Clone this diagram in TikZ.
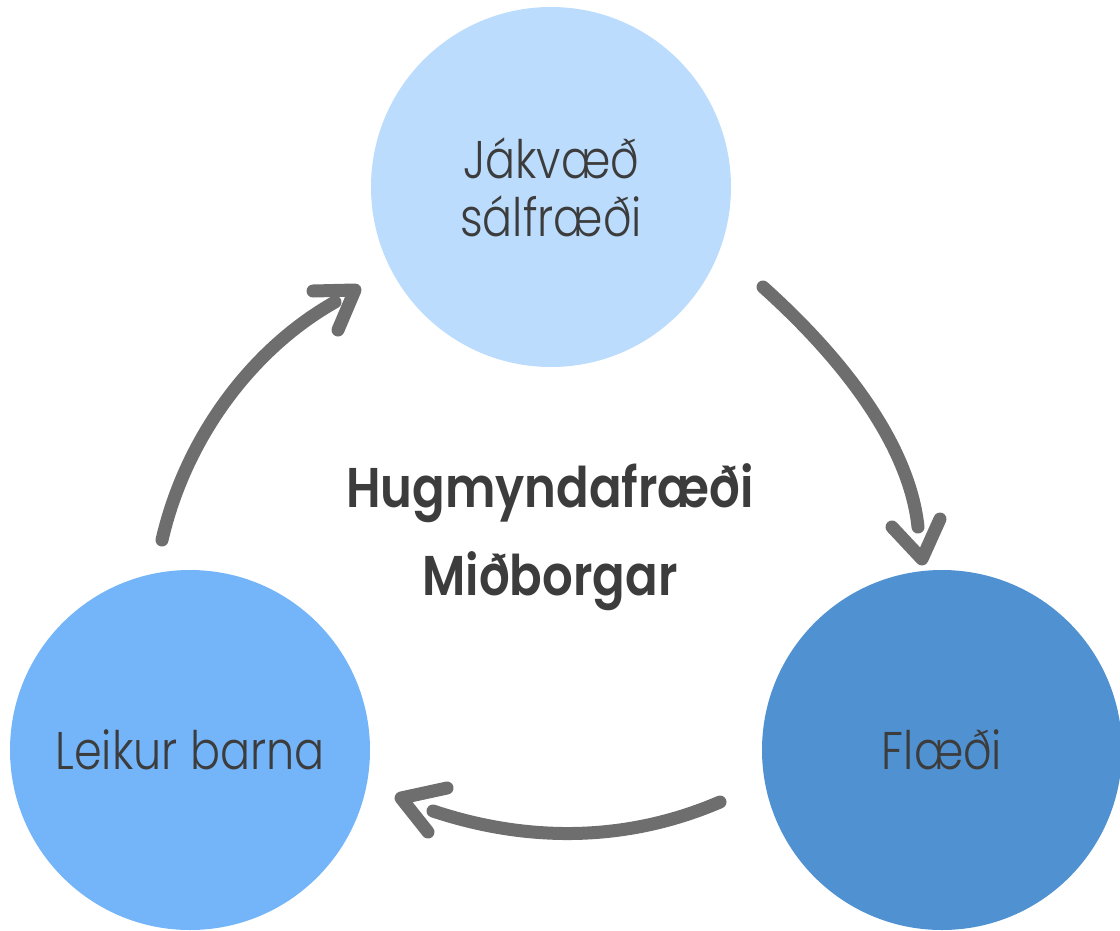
\documentclass[tikz,border=0pt]{standalone}
\usepackage{fontspec}
\setmainfont{Poppins}
\newfontfamily\labelfont[FakeStretch=0.84]{Poppins Light}
\newfontfamily\titlefont[FakeStretch=0.86]{Poppins SemiBold}
\definecolor{ctop}{HTML}{BBDCFC}
\definecolor{cleft}{HTML}{74B4F8}
\definecolor{cright}{HTML}{5091D2}
\definecolor{arrowgray}{HTML}{6E6E6E}
\definecolor{txt}{HTML}{3C3C3C}
\tikzset{
  bubble/.style={circle, minimum size=360pt, inner sep=0pt, text=txt, align=center,
    font=\labelfont\fontsize{53}{58}\selectfont},
  shaft/.style={draw=arrowgray, line width=13pt, line cap=round},
  barb/.style={draw=arrowgray, line width=13pt, line cap=round, line join=round},
}
\begin{document}
\begin{tikzpicture}[x=1pt,y=-1pt]
\useasboundingbox (0,0) rectangle (1120,930);
\node[bubble, fill=ctop] (top) at (551,187) {Jákvæð\\sálfræði};
\node[bubble, fill=cleft] (left) at (190,750) {Leikur barna};
\node[bubble, fill=cright] (right) at (942,750) {Flæði};
\node[text=txt, align=center, font=\titlefont\fontsize{56}{88}\selectfont] (title) at (550,537) {Hugmyndafræði\\Miðborgar};
% left arrow
\coordinate (a1s) at (162,540);
\coordinate (a1e) at (335,302);
\coordinate (a1t) at (355,290);
\coordinate (a1l) at (313,291);
\coordinate (a1r) at (338,330);
\draw[shaft] (a1s) .. controls (185,440) and (250,350) .. (a1e);
\draw[barb] (a1l) -- (a1t) -- (a1r);
% right arrow
\coordinate (a2s) at (763,287);
\coordinate (a2e) at (918,527);
\coordinate (a2t) at (922,559);
\coordinate (a2l) at (892,527);
\coordinate (a2r) at (940,519);
\draw[shaft] (a2s) .. controls (850,365) and (910,450) .. (a2e);
\draw[barb] (a2l) -- (a2t) -- (a2r);
% bottom arrow
\coordinate (a3s) at (720,802);
\coordinate (a3e) at (433,811);
\coordinate (a3t) at (401,798);
\coordinate (a3l) at (447,788);
\coordinate (a3r) at (428,832);
\draw[shaft] (a3s) .. controls (620,845) and (520,840) .. (a3e);
\draw[barb] (a3l) -- (a3t) -- (a3r);
\end{tikzpicture}
\end{document}
